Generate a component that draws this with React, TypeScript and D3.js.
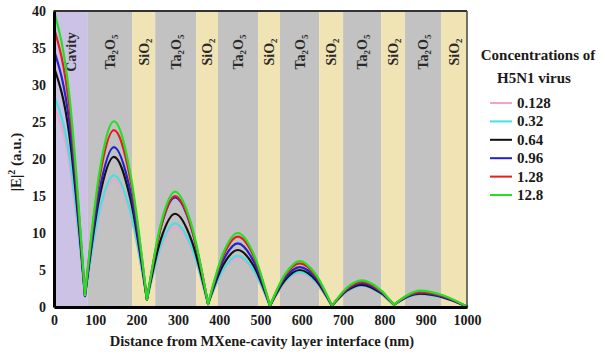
import { useEffect, useRef } from 'react'
import * as d3 from 'd3'

// distance from MXene-cavity interface (nm), shared by all series
const positions = [0, 37, 75, 110, 145, 185, 225, 259, 293, 333, 373, 409, 445, 484, 523, 559, 595, 634, 673, 709, 745, 797, 823, 855, 886, 943, 1000]
// points where the field profile has a cusp (minima / interface kinks)
const cusps = [75, 225, 373, 523, 673, 797, 823]

const concentrations = ['0.128', '0.32', '0.64', '0.96', '1.28', '12.8']
const seriesColors = ['#f4a3c6', '#3fe3e3', '#111111', '#2222cc', '#e81c1c', '#22e022']

const pinkValues = [27.2, 19.6, 1.3, 12.5, 17.2, 12.5, 1.0, 7.9, 10.8, 7.8, 0.4, 4.8, 6.6, 4.7, 0.15, 3.2, 4.5, 3.2, 0.15, 2.0, 2.8, 1.55, 0.3, 1.3, 1.7, 1.2, 0.05]
const cyanValues = [28.6, 20.6, 1.4, 13.0, 17.8, 12.9, 1.0, 8.3, 11.3, 8.1, 0.4, 5.0, 6.9, 4.9, 0.15, 3.4, 4.7, 3.4, 0.15, 2.1, 2.9, 1.6, 0.3, 1.3, 1.75, 1.25, 0.05]
const blackValues = [32.4, 23.3, 1.5, 14.8, 20.3, 14.6, 1.0, 9.2, 12.6, 9.0, 0.4, 5.6, 7.7, 5.5, 0.15, 3.6, 5.0, 3.6, 0.15, 2.2, 3.0, 1.7, 0.3, 1.4, 1.8, 1.3, 0.05]
const blueValues = [34.7, 25.0, 1.5, 15.7, 21.6, 15.6, 1.0, 10.8, 14.8, 10.6, 0.4, 6.2, 8.6, 6.1, 0.15, 3.9, 5.4, 3.9, 0.15, 2.3, 3.2, 1.8, 0.3, 1.4, 1.9, 1.35, 0.05]
const redValues = [37.7, 27.1, 1.6, 17.4, 23.9, 17.2, 1.0, 10.9, 15.0, 10.7, 0.4, 6.8, 9.5, 6.8, 0.15, 4.2, 5.9, 4.2, 0.15, 2.45, 3.4, 1.9, 0.3, 1.5, 2.0, 1.45, 0.05]
const greenValues = [40.0, 28.7, 1.6, 18.2, 25.1, 18.0, 1.0, 11.3, 15.6, 11.1, 0.4, 7.2, 10.0, 7.1, 0.15, 4.4, 6.2, 4.4, 0.15, 2.6, 3.6, 2.0, 0.3, 1.6, 2.2, 1.55, 0.05]

// layer stack: [start nm, end nm, material]
const layerStarts = [0, 82, 189, 245, 344, 397, 494, 547, 642, 700, 792, 850, 937]
const layerEnds = [82, 189, 245, 344, 397, 494, 547, 642, 700, 792, 850, 937, 1000]
const layerTypes = ['cavity', 'ta', 'si', 'ta', 'si', 'ta', 'si', 'ta', 'si', 'ta', 'si', 'ta', 'si']

const xTicks = [0, 100, 200, 300, 400, 500, 600, 700, 800, 900, 1000]
const yTicks = [0, 5, 10, 15, 20, 25, 30, 35, 40]

const FONT = 'Liberation Serif, Tinos, DejaVu Serif, serif'

export default function App() {
  const svgRef = useRef<SVGSVGElement>(null)

  useEffect(() => {
    if (!svgRef.current) return
    const svg = d3.select(svgRef.current)
    svg.selectAll('*').remove()

    const width = 605
    const height = 356
    const margin = { top: 11, right: 138, bottom: 49, left: 54 }
    const innerW = width - margin.left - margin.right
    const innerH = height - margin.top - margin.bottom

    svg.attr('width', width).attr('height', height)

    const g = svg.append('g').attr('transform', `translate(${margin.left},${margin.top})`)

    const x = d3.scaleLinear().domain([0, 1000]).range([0, innerW])
    const y = d3.scaleLinear().domain([0, 40]).range([innerH, 0])

    // layer backgrounds
    const fills: Record<string, string> = { cavity: '#cbc2e6', ta: '#c2c2c2', si: '#f1e4b4' }
    const layers = layerTypes.map((t, i) => ({ t, a: layerStarts[i], b: layerEnds[i] }))
    g.selectAll('.layer')
      .data(layers)
      .enter()
      .append('rect')
      .attr('x', (d) => x(d.a))
      .attr('y', 0)
      .attr('width', (d) => x(d.b) - x(d.a))
      .attr('height', innerH)
      .attr('fill', (d) => fills[d.t])

    // layer labels (rotated)
    layers.forEach((d) => {
      const cx = (x(d.a) + x(d.b)) / 2
      const t = g
        .append('text')
        .attr('transform', `translate(${cx + 5},41) rotate(-90)`)
        .attr('text-anchor', 'middle')
        .style('font-family', FONT)
        .attr('font-weight', 'bold')
        .attr('font-size', '14px')
        .attr('fill', '#2a2a2a')
      if (d.t === 'cavity') {
        t.text('Cavity')
      } else if (d.t === 'ta') {
        t.append('tspan').text('Ta')
        t.append('tspan').attr('font-size', '9px').attr('dy', 3).text('2')
        t.append('tspan').attr('dy', -3).text('O')
        t.append('tspan').attr('font-size', '9px').attr('dy', 3).text('5')
      } else {
        t.append('tspan').text('SiO')
        t.append('tspan').attr('font-size', '9px').attr('dy', 3).text('2')
      }
    })

    // curves
    const allValues = [pinkValues, cyanValues, blackValues, blueValues, redValues, greenValues]
    const line = d3
      .line<[number, number]>()
      .x((d) => x(d[0]))
      .y((d) => y(d[1]))
      .curve(d3.curveMonotoneX)

    allValues.forEach((vals, si) => {
      const pts: [number, number][] = positions.map((p, i) => [p, vals[i]])
      let d = ''
      let seg: [number, number][] = []
      pts.forEach((p) => {
        seg.push(p)
        if (cusps.includes(p[0])) {
          d += line(seg)
          seg = [p]
        }
      })
      if (seg.length > 1) d += line(seg)
      g.append('path')
        .attr('d', d)
        .attr('fill', 'none')
        .attr('stroke', seriesColors[si])
        .attr('stroke-width', 2.2)
        .attr('stroke-linecap', 'round')
        .attr('stroke-linejoin', 'round')
    })

    // frame
    g.append('line').attr('x1', 0).attr('x2', innerW).attr('y1', 0).attr('y2', 0).attr('stroke', '#333').attr('stroke-width', 2)
    g.append('line').attr('x1', innerW).attr('x2', innerW).attr('y1', 0).attr('y2', innerH).attr('stroke', '#444').attr('stroke-width', 1.5)

    // axes
    const xAxis = g
      .append('g')
      .attr('transform', `translate(0,${innerH})`)
      .call(d3.axisBottom(x).tickValues(xTicks).tickFormat(d3.format('d')).tickSize(0).tickPadding(8))
    xAxis.select('.domain').attr('stroke', '#000').attr('stroke-width', 3)
    xAxis.selectAll('text').style('font-family', FONT).attr('font-weight', 'bold').attr('font-size', '14px').attr('fill', '#1a1a1a')

    const yAxis = g.append('g').call(d3.axisLeft(y).tickValues(yTicks).tickSize(0).tickPadding(8))
    yAxis.select('.domain').attr('stroke', '#000').attr('stroke-width', 3)
    yAxis.selectAll('text').style('font-family', FONT).attr('font-weight', 'bold').attr('font-size', '14px').attr('fill', '#1a1a1a')

    // axis titles
    svg
      .append('text')
      .attr('x', 262)
      .attr('y', 346)
      .attr('text-anchor', 'middle')
      .style('font-family', FONT)
      .attr('font-weight', 'bold')
      .attr('font-size', '14.5px')
      .attr('fill', '#1a1a1a')
      .text('Distance from MXene-cavity layer interface (nm)')

    const yt = svg
      .append('text')
      .attr('transform', 'translate(21,162) rotate(-90)')
      .attr('text-anchor', 'middle')
      .style('font-family', FONT)
      .attr('font-weight', 'bold')
      .attr('font-size', '15px')
      .attr('fill', '#1a1a1a')
    yt.append('tspan').text('|E|')
    yt.append('tspan').attr('font-size', '10px').attr('dy', -6).text('2')
    yt.append('tspan').attr('dy', 6).text(' (a.u.)')

    // legend
    const lg = svg.append('g').style('font-family', FONT).attr('font-weight', 'bold').attr('fill', '#1a1a1a')
    lg.append('text').attr('x', 538).attr('y', 60).attr('text-anchor', 'middle').attr('font-size', '15px').text('Concentrations of')
    lg.append('text').attr('x', 534).attr('y', 83).attr('text-anchor', 'middle').attr('font-size', '15px').text('H5N1 virus')
    concentrations.forEach((c, i) => {
      const cy = 103 + i * 18.4
      lg.append('line').attr('x1', 490).attr('x2', 512).attr('y1', cy).attr('y2', cy).attr('stroke', seriesColors[i]).attr('stroke-width', 2)
      lg.append('text').attr('x', 517).attr('y', cy + 5).attr('font-size', '15px').text(c)
    })
  }, [])

  return (
    <svg ref={svgRef} style={{ position: 'absolute', left: 0, top: 0, background: '#fff' }}></svg>
  )
}
